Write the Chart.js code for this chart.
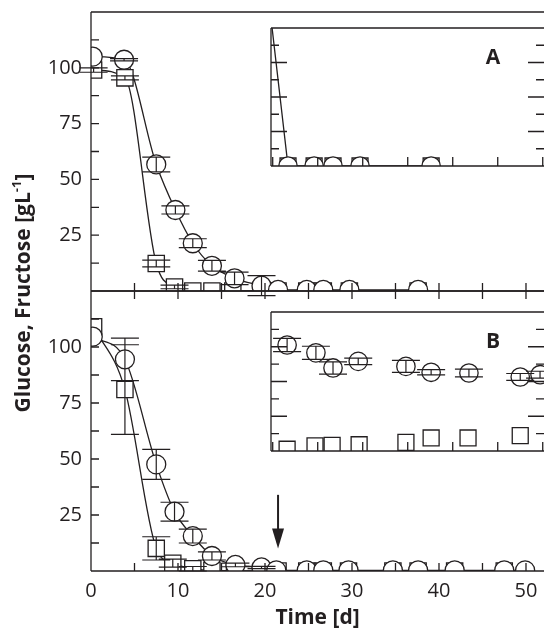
<!DOCTYPE html>
<html>
<head>
<meta charset="utf-8">
<script src="https://cdn.jsdelivr.net/npm/chart.js@4.4.0/dist/chart.umd.min.js"></script>
<style>
  html, body { margin: 0; padding: 0; background: #fff; overflow: hidden; }
  #wrap { position: relative; width: 544px; height: 629px; }
  #wrap canvas { position: absolute; left: 0; top: 0; }
</style>
</head>
<body>
<div id="wrap">
  <canvas id="top" width="544" height="629"></canvas>
  <canvas id="bot" width="544" height="629"></canvas>
  <canvas id="insA" width="544" height="629"></canvas>
  <canvas id="insB" width="544" height="629"></canvas>
</div>
<script>
// ---- data ----
// upper panel (A)
var aCircDays = [0.2, 3.8, 7.5, 9.7, 11.7, 13.9, 16.5, 19.6, 21.5, 24.8, 26.7, 29.7, 37.6];
var aCirc     = [105, 103.6, 56.7, 36.3, 21.4, 11.3, 5.7, 2.4, 0.5, 0.5, 0.5, 0.5, 0.5];
var aCircErr  = [0, 0.5, 3.3, 1.8, 2.0, 2.4, 2.8, 4.5, 0, 0, 0, 0, 0];
var aSqDays   = [0.3, 3.9, 7.5, 9.6, 11.7, 13.9, 16.3, 19.6, 21.5, 24.8, 26.7, 29.7, 37.6];
var aSq       = [99, 95.5, 12.3, 1.8, 0, 0, 0, 0, 0, 0, 0, 0, 0];
var aSqErr    = [1, 0.9, 1.5, 0.8, 0, 0, 0, 0, 0, 0, 0, 0, 0];

// lower panel (B)
var bCircDays = [0.2, 3.9, 7.5, 9.6, 11.7, 13.9, 16.6, 19.6, 21.3, 24.8, 26.7, 29.6, 34.7, 37.6, 41.8, 47.5, 49.9];
var bCirc     = [104.6, 94.5, 47.6, 26.5, 15.6, 6.7, 2.7, 1.6, 0.3, 0.3, 0.3, 0.3, 0.3, 0.3, 0.3, 0.3, 0.3];
var bCircErr  = [0, 9.5, 6.7, 4.2, 3.1, 1.8, 0.8, 0.5, 0, 0, 0, 0, 0, 0, 0, 0, 0];
var bSqDays   = [0.3, 3.9, 7.5, 9.4, 11.7, 13.9, 16.5, 19.6, 21.5, 24.8, 26.7, 29.6, 34.7, 37.6, 41.8, 47.5];
var bSq       = [109, 81, 10.1, 3.5, 1, 0.2, 0.2, 0, 0, 0, 0, 0, 0, 0, 0, 0];
var bSqErr    = [0, 20, 5.2, 1.8, 1, 0, 0, 0, 0, 0, 0, 0, 0, 0, 0, 0];

// inset A
var iaCircDays = [19.6, 21.7, 24.6, 26.7, 29.7, 37.6];
var iaCirc     = [9.5, 0, 0, 0, 0, 0];
var iaSqDays   = [21.7, 24.6, 26.7, 29.7, 37.6];
var iaSq       = [0, 0, 0, 0, 0];

// inset B
var ibCircDays = [21.6, 24.8, 26.7, 29.5, 34.8, 37.6, 41.8, 47.5, 49.7];
var ibCirc     = [6.1, 5.65, 4.78, 5.16, 4.87, 4.53, 4.49, 4.26, 4.39];
var ibCircErr  = [0.38, 0.38, 0.35, 0.19, 0.35, 0.15, 0.22, 0.2, 0.2];
var ibSqDays   = [21.6, 24.7, 26.6, 29.6, 34.8, 37.6, 41.7, 47.5];
var ibSq       = [0.1, 0.3, 0.33, 0.36, 0.5, 0.75, 0.75, 0.88];

// ticks
var xTickLabels = [0, 10, 20, 30, 40, 50];
var xTickMarks  = [5, 10, 15, 20, 25, 30, 35, 40, 45, 50];
var yTickLabels = [25, 50, 75, 100];
var yTickMarks  = [12.5, 25, 37.5, 50, 62.5, 75, 87.5, 100, 112.5];
var insXTicks   = [20, 25, 30, 35, 40, 45, 50];
var insYTicks   = [1, 2, 3, 4, 5, 6, 7];

var arrowDay = 21.5, arrowFrom = 34, arrowTo = 10;

var ink = '#231f20';
Chart.defaults.font.family = "'Open Sans', sans-serif";
Chart.defaults.color = ink;

function pts(xs, ys) {
  return xs.map(function (x, i) { return {x: x, y: ys[i]}; });
}

function curve(xs, ys, mono) {
  return {
    data: pts(xs, ys), showLine: true, pointRadius: 0, borderColor: ink, borderWidth: 1.3,
    cubicInterpolationMode: mono ? 'monotone' : 'default', tension: 0, order: 3, clip: 0
  };
}
function squares(xs, ys, r) {
  return {
    data: pts(xs, ys), showLine: false, pointStyle: 'rect', pointRadius: r,
    backgroundColor: '#fff', borderColor: ink, borderWidth: 1.3, order: 2, clip: 0
  };
}
function circles(xs, ys, r) {
  return {
    data: pts(xs, ys), showLine: false, pointStyle: 'circle', pointRadius: r,
    backgroundColor: '#fff', borderColor: ink, borderWidth: 1.3, order: 1, clip: 0
  };
}

// frame + inward ticks
var framePlugin = {
  id: 'frame',
  afterDraw: function (chart, args, o) {
    var ctx = chart.ctx, a = chart.chartArea, xs = chart.scales.x, ys = chart.scales.y;
    ctx.save();
    ctx.strokeStyle = ink;
    ctx.lineWidth = 1.3;
    ctx.beginPath();
    if (o.sides.indexOf('top') >= 0) { ctx.moveTo(a.left, a.top); ctx.lineTo(a.right, a.top); }
    if (o.sides.indexOf('bottom') >= 0) { ctx.moveTo(a.left, a.bottom); ctx.lineTo(a.right, a.bottom); }
    if (o.sides.indexOf('left') >= 0) { ctx.moveTo(a.left, a.top); ctx.lineTo(a.left, a.bottom); }
    (o.xTicks || []).forEach(function (v) {
      var px = xs.getPixelForValue(v);
      if (px <= a.left + 1 || px >= a.right) return;
      if (o.xBottom) { ctx.moveTo(px, a.bottom); ctx.lineTo(px, a.bottom - o.xBottom); }
      if (o.xTop) { ctx.moveTo(px, a.top); ctx.lineTo(px, a.top + o.xTop); }
    });
    (o.yTicks || []).forEach(function (v, i) {
      var py = ys.getPixelForValue(v);
      var len = o.yLen[i % o.yLen.length];
      ctx.moveTo(a.left, py); ctx.lineTo(a.left + len, py);
      if (o.yRight) { ctx.moveTo(a.right, py); ctx.lineTo(a.right - len, py); }
    });
    ctx.stroke();
    if (o.label) {
      ctx.fillStyle = ink;
      ctx.font = "bold 21px 'Open Sans', sans-serif";
      ctx.textAlign = 'center';
      ctx.textBaseline = 'middle';
      ctx.fillText(o.label, a.right - 51, a.top + 30);
    }
    ctx.restore();
  }
};

// vertical error bars with wide caps, drawn over the markers
var errPlugin = {
  id: 'errbars',
  afterDatasetsDraw: function (chart, args, o) {
    var ctx = chart.ctx, xs = chart.scales.x, ys = chart.scales.y;
    ctx.save();
    ctx.strokeStyle = ink;
    ctx.lineWidth = 1.2;
    ctx.beginPath();
    (o.sets || []).forEach(function (s) {
      s.x.forEach(function (xv, i) {
        var e = s.e[i];
        if (!e) return;
        var px = xs.getPixelForValue(xv);
        if (px < chart.chartArea.left || px > chart.chartArea.right) return;
        var p1 = ys.getPixelForValue(s.y[i] + e), p2 = ys.getPixelForValue(s.y[i] - e);
        ctx.moveTo(px, p1); ctx.lineTo(px, p2);
        ctx.moveTo(px - 14, p1); ctx.lineTo(px + 14, p1);
        ctx.moveTo(px - 14, p2); ctx.lineTo(px + 14, p2);
      });
    });
    ctx.stroke();
    ctx.restore();
  }
};

// y title spanning both panels, and the arrow
var extrasPlugin = {
  id: 'extras',
  afterDraw: function (chart) {
    var ctx = chart.ctx, xs = chart.scales.x, ys = chart.scales.y;
    ctx.save();
    ctx.fillStyle = ink;
    ctx.strokeStyle = ink;
    // arrow
    var ax = xs.getPixelForValue(arrowDay), ay1 = ys.getPixelForValue(arrowFrom), ay2 = ys.getPixelForValue(arrowTo);
    ctx.lineWidth = 2;
    ctx.beginPath(); ctx.moveTo(ax, ay1); ctx.lineTo(ax, ay2 - 14); ctx.stroke();
    ctx.beginPath(); ctx.moveTo(ax - 6, ay2 - 20); ctx.lineTo(ax + 6, ay2 - 20); ctx.lineTo(ax, ay2); ctx.closePath(); ctx.fill();
    // y title
    var main = 'Glucose, Fructose [gL', sup = '-1', end = ']';
    var fMain = "bold 21px 'Open Sans', sans-serif", fSup = "bold 13px 'Open Sans', sans-serif";
    ctx.font = fMain; var w1 = ctx.measureText(main).width, w3 = ctx.measureText(end).width;
    ctx.font = fSup; var w2 = ctx.measureText(sup).width;
    var tot = w1 + w2 + w3;
    ctx.translate(24, 293);
    ctx.rotate(-Math.PI / 2);
    ctx.textBaseline = 'middle';
    ctx.textAlign = 'left';
    ctx.font = fMain; ctx.fillText(main, -tot / 2, 0);
    ctx.font = fSup; ctx.fillText(sup, -tot / 2 + w1, -7);
    ctx.font = fMain; ctx.fillText(end, -tot / 2 + w1 + w2, 0);
    ctx.restore();
  }
};

var xMax = 52.07;

function yMain() {
  return {
    type: 'linear', min: 0, max: 125,
    grid: {display: false, drawTicks: false}, border: {display: false},
    ticks: {font: {size: 20}, color: ink, padding: 9},
    afterBuildTicks: function (s) { s.ticks = yTickLabels.map(function (v) { return {value: v}; }); },
    afterFit: function (s) { s.width = 91; s.paddingTop = 0; s.paddingBottom = 0; }
  };
}

function base(padding, scales, datasets, plugins) {
  return {
    type: 'scatter',
    data: {datasets: datasets},
    options: {
      responsive: false, animation: false, devicePixelRatio: 1,
      layout: {padding: padding, autoPadding: false},
      scales: scales,
      plugins: Object.assign({legend: {display: false}, tooltip: {enabled: false}}, plugins)
    },
    plugins: [framePlugin, errPlugin]
  };
}

// upper main panel
new Chart(document.getElementById('top'), base(
  {top: 12, left: 0, right: 0, bottom: 338},
  {x: {type: 'linear', min: 0, max: xMax, display: false}, y: yMain()},
  [curve(aCircDays, aCirc, true), curve(aSqDays, aSq, true),
   squares(aSqDays, aSq, 11.5), circles(aCircDays, aCirc, 9.5)],
  {
    frame: {sides: ['top', 'left', 'bottom'], xTicks: xTickMarks, xBottom: 8, yTicks: yTickMarks, yLen: [8]},
    errbars: {sets: [{x: aCircDays, y: aCirc, e: aCircErr}, {x: aSqDays, y: aSq, e: aSqErr}]}
  }
));

// lower main panel
var botCfg = base(
  {top: 291, left: 0, right: 0, bottom: 0},
  {
    x: {
      type: 'linear', min: 0, max: xMax,
      grid: {display: false, drawTicks: false}, border: {display: false},
      ticks: {font: {size: 20}, color: ink, padding: 8, maxRotation: 0, autoSkip: false},
      afterBuildTicks: function (s) { s.ticks = xTickLabels.map(function (v) { return {value: v}; }); },
      afterFit: function (s) { s.height = 58; s.paddingLeft = 0; s.paddingRight = 0; },
      title: {display: true, text: 'Time [d]', color: ink, font: {size: 21, weight: 'bold', lineHeight: 1}, padding: {top: 0, bottom: 0}}
    },
    y: yMain()
  },
  [curve(bCircDays, bCirc, true), curve(bSqDays, bSq, true),
   squares(bSqDays, bSq, 11.5), circles(bCircDays, bCirc, 9.5)],
  {
    frame: {sides: ['top', 'left', 'bottom'], xTicks: xTickMarks, xBottom: 8, xTop: 8, yTicks: yTickMarks, yLen: [8]},
    errbars: {sets: [{x: bCircDays, y: bCirc, e: bCircErr}, {x: bSqDays, y: bSq, e: bSqErr}]}
  }
);
botCfg.plugins.push(extrasPlugin);
new Chart(document.getElementById('bot'), botCfg);

// insets
var insX = {type: 'linear', min: 19.81, max: 50.14, display: false};
var insY = {type: 'linear', min: 0, max: 8, display: false};

new Chart(document.getElementById('insA'), base(
  {top: 28, left: 271, right: 0, bottom: 463},
  {x: insX, y: insY},
  [curve(iaCircDays, iaCirc, false), squares(iaSqDays, iaSq, 11.3), circles(iaCircDays, iaCirc, 9.2)],
  {
    frame: {sides: ['top', 'left', 'bottom'], xTicks: insXTicks, xBottom: 9, yTicks: insYTicks, yLen: [8, 16], yRight: true, label: 'A'},
    errbars: {sets: []}
  }
));

new Chart(document.getElementById('insB'), base(
  {top: 312, left: 271, right: 0, bottom: 178},
  {x: insX, y: insY},
  [squares(ibSqDays, ibSq, 11.3), circles(ibCircDays, ibCirc, 9.2)],
  {
    frame: {sides: ['top', 'left', 'bottom'], xTicks: insXTicks, xBottom: 9, yTicks: insYTicks, yLen: [8, 16], yRight: true, label: 'B'},
    errbars: {sets: [{x: ibCircDays, y: ibCirc, e: ibCircErr}]}
  }
));
</script>
</body>
</html>
